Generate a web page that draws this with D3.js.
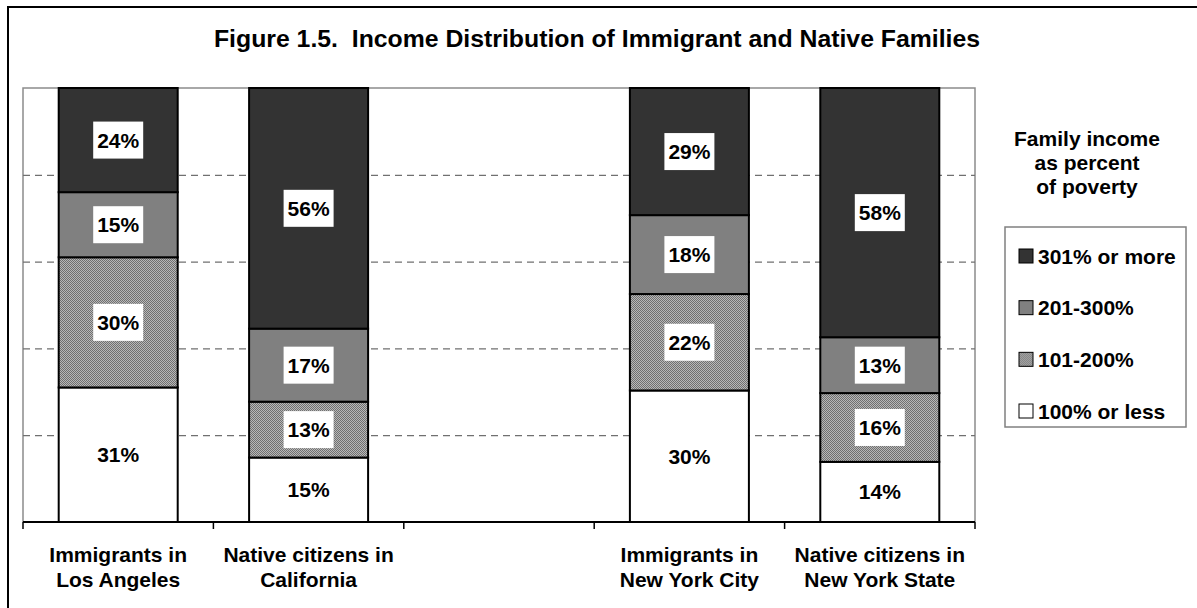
<!DOCTYPE html>
<html>
<head>
<meta charset="utf-8">
<script src="https://cdn.jsdelivr.net/npm/d3@7"></script>
<style>
  html, body { margin: 0; padding: 0; background: #fff; }
  svg { display: block; }
  text { font-family: "Liberation Sans", Arial, sans-serif; font-weight: bold; fill: #000; white-space: pre; }
</style>
</head>
<body>
<svg id="chart" width="1197" height="608"></svg>
<script>
// Category slots along the x axis; the empty slot separates the two regions.
const categories = ["Immigrants in|Los Angeles", "Native citizens in|California", "", "Immigrants in|New York City", "Native citizens in|New York State"];

// Share of families in each income band (percent), bottom to top of each column.
const seriesNames = ["100% or less", "101-200%", "201-300%", "301% or more"];
const pct100OrLess = [31, 15, null, 30, 14];
const pct101to200  = [30, 13, null, 22, 16];
const pct201to300  = [15, 17, null, 18, 13];
const pct301OrMore = [24, 56, null, 29, 58];

const gridTicks = [0.2, 0.4, 0.6, 0.8];

const titleText = "Figure 1.5.  Income Distribution of Immigrant and Native Families";
const legendTitle = ["Family income", "as percent", "of poverty"];
const legendOrder = ["301% or more", "201-300%", "101-200%", "100% or less"];

const svg = d3.select("#chart");
const W = 1197, H = 608;
const plot = { left: 23, top: 88, right: 975, bottom: 522 };

// Fill pattern for the 101-200% band: fine dithered gray
const defs = svg.append("defs");
const pat = defs.append("pattern")
  .attr("id", "dither").attr("patternUnits", "userSpaceOnUse")
  .attr("width", 2).attr("height", 2);
pat.append("rect").attr("width", 2).attr("height", 2).attr("fill", "#b8b8b8");
pat.append("rect").attr("x", 0).attr("y", 0).attr("width", 1).attr("height", 1).attr("fill", "#707070");
pat.append("rect").attr("x", 1).attr("y", 1).attr("width", 1).attr("height", 1).attr("fill", "#707070");

const fills = {
  "100% or less": "#ffffff",
  "101-200%": "url(#dither)",
  "201-300%": "#808080",
  "301% or more": "#333333"
};

// Outer frame (runs off the right and bottom edges)
svg.append("rect")
  .attr("x", 8).attr("y", 7).attr("width", W).attr("height", H)
  .attr("fill", "none").attr("stroke", "#000").attr("stroke-width", 2);

// Title
svg.append("text")
  .attr("x", 597).attr("y", 47)
  .attr("text-anchor", "middle")
  .attr("xml:space", "preserve")
  .style("font-size", "24.8px")
  .text(titleText);

// Scales
const keys = categories.map((c, i) => "c" + i);
const x = d3.scaleBand()
  .domain(keys)
  .range([plot.left, plot.right])
  .paddingInner(0.375)
  .paddingOuter(0.1875);
const y = d3.scaleLinear().domain([0, 1]).range([plot.bottom, plot.top]);

// Rows for stacking
const columns = [pct100OrLess, pct101to200, pct201to300, pct301OrMore];
const rows = keys.map((k, i) => {
  const r = { key: k, label: categories[i] };
  seriesNames.forEach((s, j) => r[s] = columns[j][i] == null ? 0 : columns[j][i]);
  return r;
});
const stack = d3.stack().keys(seriesNames).offset(d3.stackOffsetExpand);
const stacked = stack(rows);

// Plot area frame (gray)
svg.append("path")
  .attr("d", `M${plot.left},${plot.bottom}V${plot.top}H${plot.right}V${plot.bottom}`)
  .attr("fill", "none").attr("stroke", "#8c8c8c").attr("stroke-width", 1.5);

// Dashed gridlines
const grid = svg.append("g")
  .attr("transform", `translate(${plot.left},0)`)
  .call(d3.axisLeft(y).tickValues(gridTicks).tickSize(-(plot.right - plot.left)).tickFormat(""));
grid.select(".domain").remove();
grid.selectAll(".tick line")
  .attr("stroke", "#707070").attr("stroke-width", 1.2).attr("stroke-dasharray", "7,5");

// Bars
const layers = svg.append("g").selectAll("g")
  .data(stacked).join("g")
  .attr("fill", d => fills[d.key]);
layers.selectAll("rect")
  .data(d => d.filter(p => p.data.label !== ""))
  .join("rect")
  .attr("x", p => x(p.data.key))
  .attr("width", x.bandwidth())
  .attr("y", p => y(Math.min(1, p[1])))
  .attr("height", p => y(p[0]) - y(Math.min(1, p[1])))
  .attr("stroke", "#000").attr("stroke-width", 2);

// Value labels with white boxes
const labelG = svg.append("g");
stacked.forEach(layer => {
  layer.forEach(p => {
    if (p.data.label === "") return;
    const cx = x(p.data.key) + x.bandwidth() / 2;
    const cy = (y(p[0]) + y(Math.min(1, p[1]))) / 2;
    const v = p.data[layer.key];
    const g = labelG.append("g").attr("transform", `translate(${cx},${cy})`);
    if (layer.key !== "100% or less") {
      g.append("rect").attr("x", -25).attr("y", -18.5).attr("width", 50).attr("height", 37).attr("fill", "#fff");
    }
    g.append("text").attr("text-anchor", "middle").attr("dy", "0.36em")
      .style("font-size", "21px").text(v + "%");
  });
});

// X axis line and boundary ticks
svg.append("line")
  .attr("x1", plot.left).attr("x2", plot.right)
  .attr("y1", plot.bottom).attr("y2", plot.bottom)
  .attr("stroke", "#000").attr("stroke-width", 2);
const step = x.step();
const boundaries = d3.range(keys.length + 1).map(i => plot.left + i * step);
svg.append("g").selectAll("line")
  .data(boundaries).join("line")
  .attr("x1", d => d).attr("x2", d => d)
  .attr("y1", plot.bottom).attr("y2", plot.bottom + 7)
  .attr("stroke", "#000").attr("stroke-width", 1.5);

// Category labels (two lines each)
const catG = svg.append("g");
rows.forEach(r => {
  if (r.label === "") return;
  const t = catG.append("text")
    .attr("x", x(r.key) + x.bandwidth() / 2)
    .attr("y", 562)
    .attr("text-anchor", "middle")
    .style("font-size", "21px");
  r.label.split("|").forEach((line, i) => {
    t.append("tspan").attr("x", x(r.key) + x.bandwidth() / 2).attr("y", 562 + i * 25).text(line);
  });
});

// Legend title
const lt = svg.append("text").attr("text-anchor", "middle").style("font-size", "21px");
legendTitle.forEach((line, i) => {
  lt.append("tspan").attr("x", 1087).attr("y", 146 + i * 24).text(line);
});

// Legend box and entries
svg.append("rect")
  .attr("x", 1005).attr("y", 227).attr("width", 181).attr("height", 200)
  .attr("fill", "#fff").attr("stroke", "#808080").attr("stroke-width", 1.5);
const legendY = d3.scalePoint().domain(legendOrder).range([256, 411]);
const li = svg.append("g").selectAll("g")
  .data(legendOrder).join("g")
  .attr("transform", d => `translate(1019,${legendY(d)})`);
li.append("rect")
  .attr("x", 0).attr("y", -7).attr("width", 14).attr("height", 14)
  .attr("fill", d => fills[d]).attr("stroke", "#000").attr("stroke-width", 1);
li.append("text")
  .attr("x", 19).attr("dy", "0.36em")
  .style("font-size", "21px")
  .text(d => d);
</script>
</body>
</html>
